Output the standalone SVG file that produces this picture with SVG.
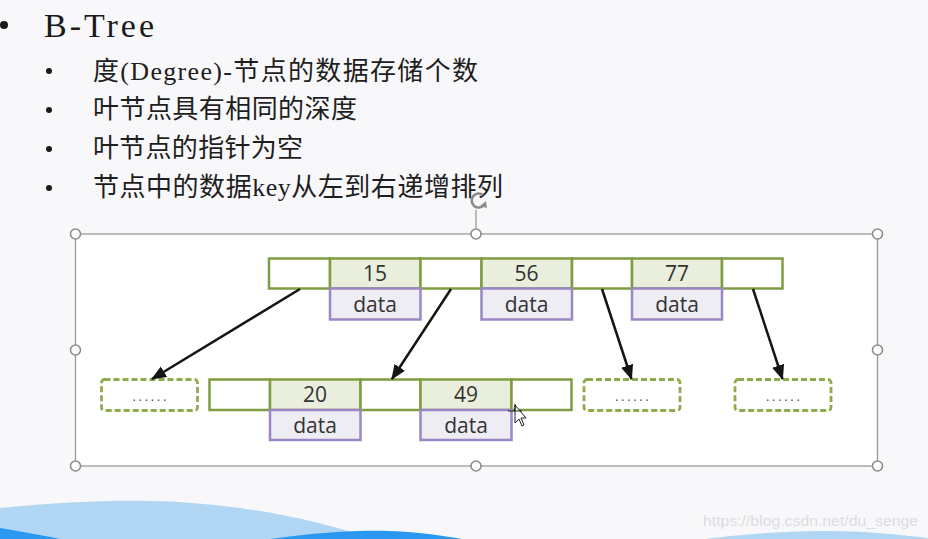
<svg xmlns="http://www.w3.org/2000/svg" width="928" height="539" viewBox="0 0 928 539">
  <defs>
    <style>
      .title { font-family: "Liberation Serif", "Noto Sans CJK SC", serif; fill: #1a1a1a; }
      .item { font-family: "Liberation Serif", "Noto Sans CJK SC", serif; font-size: 26px; fill: #1e1e1e; }
      .key { fill: #e9eedd; stroke: #7f9d40; stroke-width: 2.5; }
      .ptr { fill: #ffffff; stroke: #7f9d40; stroke-width: 2.5; }
      .data { fill: #efedf4; stroke: #9b86c6; stroke-width: 2.5; }
      .lbl { font-family: "Open Sans", "Noto Sans", sans-serif; font-size: 21px; fill: #333333; text-anchor: middle; }
      .dash { fill: #ffffff; stroke: #8fab4c; stroke-width: 2.8; stroke-dasharray: 6 3; }
      .dots { font-family: "Liberation Sans", sans-serif; font-size: 14px; fill: #505050; text-anchor: middle; letter-spacing: 2.2px; }
      .arrow { stroke: #151515; stroke-width: 2.5; fill: none; marker-end: url(#ah); }
      .handle { fill: #ffffff; stroke: #8c8c8c; stroke-width: 1.6; }
    </style>
    <marker id="ah" markerWidth="6" markerHeight="5" refX="5.6" refY="2.5" orient="auto" markerUnits="strokeWidth">
      <path d="M0,0 L6,2.5 L0,5 Z" fill="#151515"/>
    </marker>
  </defs>

  <!-- background -->
  <rect x="0" y="0" width="928" height="539" fill="#f8f8fa"/>

  <!-- bottom waves -->
  <path d="M0,508 C60,502 110,500 150,501 C220,502 300,515 360,535 L370,539 L0,539 Z" fill="#b1d6f4"/>
  <path d="M0,528 C25,532 45,536 60,539 L0,539 Z" fill="#2a97f0"/>
  <path d="M270,539 C320,532 360,530 390,531 C420,532 445,536 462,539 Z" fill="#2a97f0"/>
  <path d="M705,539 C760,532 800,531 830,531 C870,531 900,535 928,538 L928,539 Z" fill="#b1d6f4"/>

  <!-- watermark -->
  <text x="703" y="526" font-family="Liberation Sans, sans-serif" font-size="15" fill="#dcdde1" textLength="215" lengthAdjust="spacingAndGlyphs">https://blog.csdn.net/du_senge</text>

  <!-- heading and bullets -->
  <g id="heading">
    <circle cx="4" cy="25" r="4" fill="#1a1a1a"/>
    <text class="title" x="44" y="37" font-size="34" textLength="110" lengthAdjust="spacing">B-Tree</text>
  </g>
  <g id="bullets">
    <circle cx="49" cy="71" r="3" fill="#1a1a1a"/>
    <text class="item" x="93" y="80" textLength="385" lengthAdjust="spacing">度(Degree)-节点的数据存储个数</text>
    <circle cx="49" cy="110" r="3" fill="#1a1a1a"/>
    <text class="item" x="93" y="118" textLength="264" lengthAdjust="spacing">叶节点具有相同的深度</text>
    <circle cx="49" cy="149" r="3" fill="#1a1a1a"/>
    <text class="item" x="93" y="157" textLength="210" lengthAdjust="spacing">叶节点的指针为空</text>
    <circle cx="49" cy="188" r="3" fill="#1a1a1a"/>
    <text class="item" x="93" y="196" textLength="410" lengthAdjust="spacing">节点中的数据key从左到右递增排列</text>
  </g>

  <!-- selection frame -->
  <g id="selection">
    <rect x="75.5" y="234" width="802" height="232" fill="#ffffff" stroke="#9a9a9a" stroke-width="1.3"/>
    <line x1="476" y1="210" x2="476" y2="234" stroke="#9a9a9a" stroke-width="1.3"/>
    <path d="M483,195 A7,7 0 1 0 484,205" fill="none" stroke="#8c8c8c" stroke-width="2.6"/>
    <path d="M480,206 L487,208 L486,201 Z" fill="#8c8c8c"/>
    <circle class="handle" cx="75.5" cy="234" r="5"/>
    <circle class="handle" cx="476" cy="234" r="5"/>
    <circle class="handle" cx="877.5" cy="234" r="5"/>
    <circle class="handle" cx="75.5" cy="350" r="5"/>
    <circle class="handle" cx="877.5" cy="350" r="5"/>
    <circle class="handle" cx="75.5" cy="466" r="5"/>
    <circle class="handle" cx="476" cy="466" r="5"/>
    <circle class="handle" cx="877.5" cy="466" r="5"/>
  </g>

  <!-- root node -->
  <g id="root">
    <rect class="ptr" x="269" y="258.5" width="61" height="30"/>
    <rect class="key" x="330" y="258.5" width="90.5" height="30"/>
    <rect class="ptr" x="420.5" y="258.5" width="61" height="30"/>
    <rect class="key" x="481.5" y="258.5" width="90.5" height="30"/>
    <rect class="ptr" x="572" y="258.5" width="60" height="30"/>
    <rect class="key" x="632" y="258.5" width="90" height="30"/>
    <rect class="ptr" x="722" y="258.5" width="60.5" height="30"/>
    <rect class="data" x="330" y="288.5" width="90.5" height="31"/>
    <rect class="data" x="481.5" y="288.5" width="90.5" height="31"/>
    <rect class="data" x="632" y="288.5" width="90" height="31"/>
    <text class="lbl" x="375" y="280.5">15</text>
    <text class="lbl" x="526.5" y="280.5">56</text>
    <text class="lbl" x="677" y="280.5">77</text>
    <text class="lbl" x="375" y="312">data</text>
    <text class="lbl" x="526.5" y="312">data</text>
    <text class="lbl" x="677" y="312">data</text>
  </g>

  <!-- child node 20 / 49 -->
  <g id="child">
    <rect class="ptr" x="209.5" y="379.5" width="60.5" height="30.5"/>
    <rect class="key" x="270" y="379.5" width="90.5" height="30.5"/>
    <rect class="ptr" x="360.5" y="379.5" width="60" height="30.5"/>
    <rect class="key" x="420.5" y="379.5" width="91" height="30.5"/>
    <rect class="ptr" x="511.5" y="379.5" width="60" height="30.5"/>
    <rect class="data" x="270" y="410" width="90.5" height="30"/>
    <rect class="data" x="420.5" y="410" width="91" height="30"/>
    <text class="lbl" x="315" y="401.5">20</text>
    <text class="lbl" x="466" y="401.5">49</text>
    <text class="lbl" x="315" y="433">data</text>
    <text class="lbl" x="466" y="433">data</text>
  </g>

  <!-- placeholder nodes -->
  <g id="leaf1">
    <rect class="dash" x="101.5" y="379.5" width="96" height="31" rx="3"/>
    <text class="dots" x="150.5" y="401">......</text>
  </g>
  <g id="leaf3">
    <rect class="dash" x="584" y="379.5" width="96" height="31" rx="3"/>
    <text class="dots" x="633" y="401">......</text>
  </g>
  <g id="leaf4">
    <rect class="dash" x="735" y="379.5" width="96" height="31" rx="3"/>
    <text class="dots" x="784" y="401">......</text>
  </g>

  <!-- connectors -->
  <g id="connectors">
    <line class="arrow" x1="300" y1="289" x2="152" y2="379"/>
    <line class="arrow" x1="451" y1="289" x2="392" y2="379"/>
    <line class="arrow" x1="602" y1="289" x2="631.5" y2="379"/>
    <line class="arrow" x1="753" y1="289" x2="782.5" y2="379"/>
  </g>

  <!-- mouse cursor -->
  <g id="cursor">
    <path d="M515,405 L515,423 L519,419 L522,426 L524,425 L521,418 L526,418 Z" fill="#ffffff" stroke="#222" stroke-width="1"/>
    <path d="M508,411 L522,411 M515,404 L515,411" stroke="#222" stroke-width="1.2"/>
  </g>
</svg>
